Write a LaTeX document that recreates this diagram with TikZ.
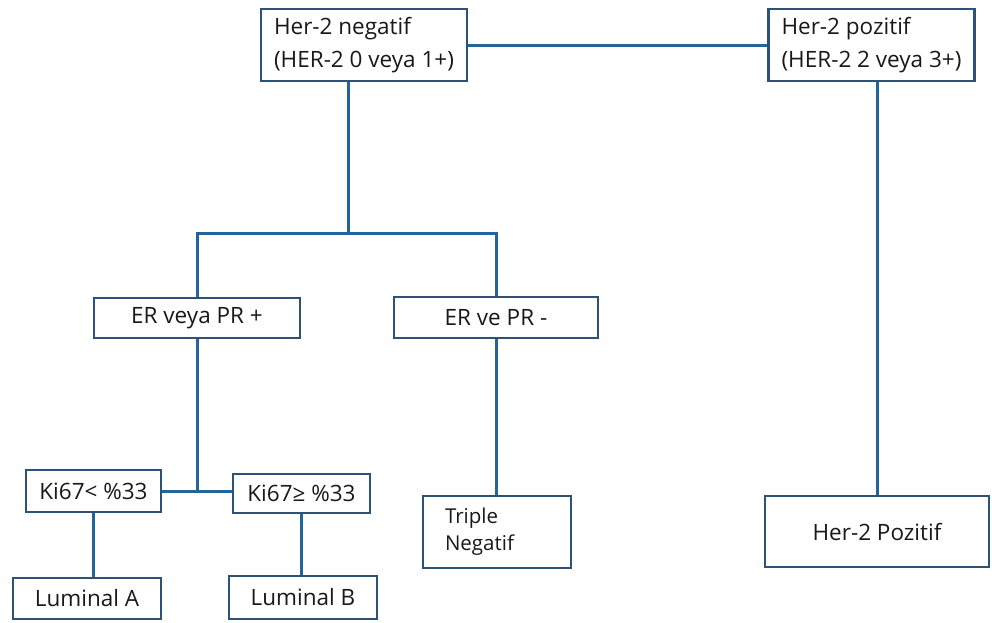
\documentclass[tikz,border=0pt]{standalone}
\usepackage{fontspec}
\setmainfont{Open Sans}
\usepackage{tikz}
\usetikzlibrary{positioning}
\definecolor{boxblue}{RGB}{45,82,118}
\definecolor{linkblue}{RGB}{35,100,155}
\definecolor{txtgray}{RGB}{25,25,25}
\tikzset{
  box/.style={draw=boxblue, line width=2.8pt, fill=white, inner sep=0pt,
              align=center, text=txtgray, font=\fontsize{22.5}{33}\selectfont},
  twoline/.style={box, align=left},
  link/.style={draw=linkblue, line width=3pt}
}

\begin{document}
\begin{tikzpicture}[x=1pt, y=-1pt]
        \useasboundingbox (0,0) rectangle (992,622);
        \node[twoline, minimum width=206pt, minimum height=72pt] (neg) at (364,45)
          {Her-2 negatif\\(HER-2 0 veya 1+)};
        \node[twoline, minimum width=206pt, minimum height=72pt] (pos) at (871.5,45)
          {Her-2 pozitif\\(HER-2 2 veya 3+)};
        \node[box, minimum width=206pt, minimum height=40pt] (erplus) at (197,318) {ER veya PR +};
        \node[box, minimum width=204pt, minimum height=41pt] (erminus) at (496,317.5) {ER ve PR -};
        \node[box, minimum width=135pt, minimum height=42pt] (kilow) at (93.5,491) {Ki67< \%33};
        \node[box, minimum width=137pt, minimum height=39pt] (kihigh) at (301.5,493.5) {Ki67≥ \%33};
        \node[box, minimum width=148pt, minimum height=41pt] (luma) at (87,598.5) {Luminal A};
        \node[box, minimum width=148pt, minimum height=43pt] (lumb) at (303,597.5) {Luminal B};
        \node[twoline, text width=104pt, inner xsep=22pt, minimum height=72pt,
              font=\fontsize{20.5}{27}\selectfont] (triple) at (497,532) {Triple\\Negatif};
        \node[box, minimum width=224pt, minimum height=71pt] (her2pos) at (877,531.5) {Her-2 Pozitif};
        \coordinate (split) at (348,233);
        \draw[link] (neg) -- (pos);
        \draw[link] (split |- neg.south) -- (split);
        \draw[link] (erplus.north) |- (split) -| (erminus.north);
        \draw[link] (her2pos.north) -- (her2pos.north |- pos.south);
        \draw[link] (erplus.south) -- (erplus.south |- kilow.east);
        \draw[link] (kilow.east) -- (kilow.east -| kihigh.west);
        \draw[link] (kilow.south) -- (kilow.south |- luma.north);
        \draw[link] (kihigh.south) -- (kihigh.south |- lumb.north);
        \draw[link] (erminus.south) -- (erminus.south |- triple.north);
      \end{tikzpicture}
\end{document}
